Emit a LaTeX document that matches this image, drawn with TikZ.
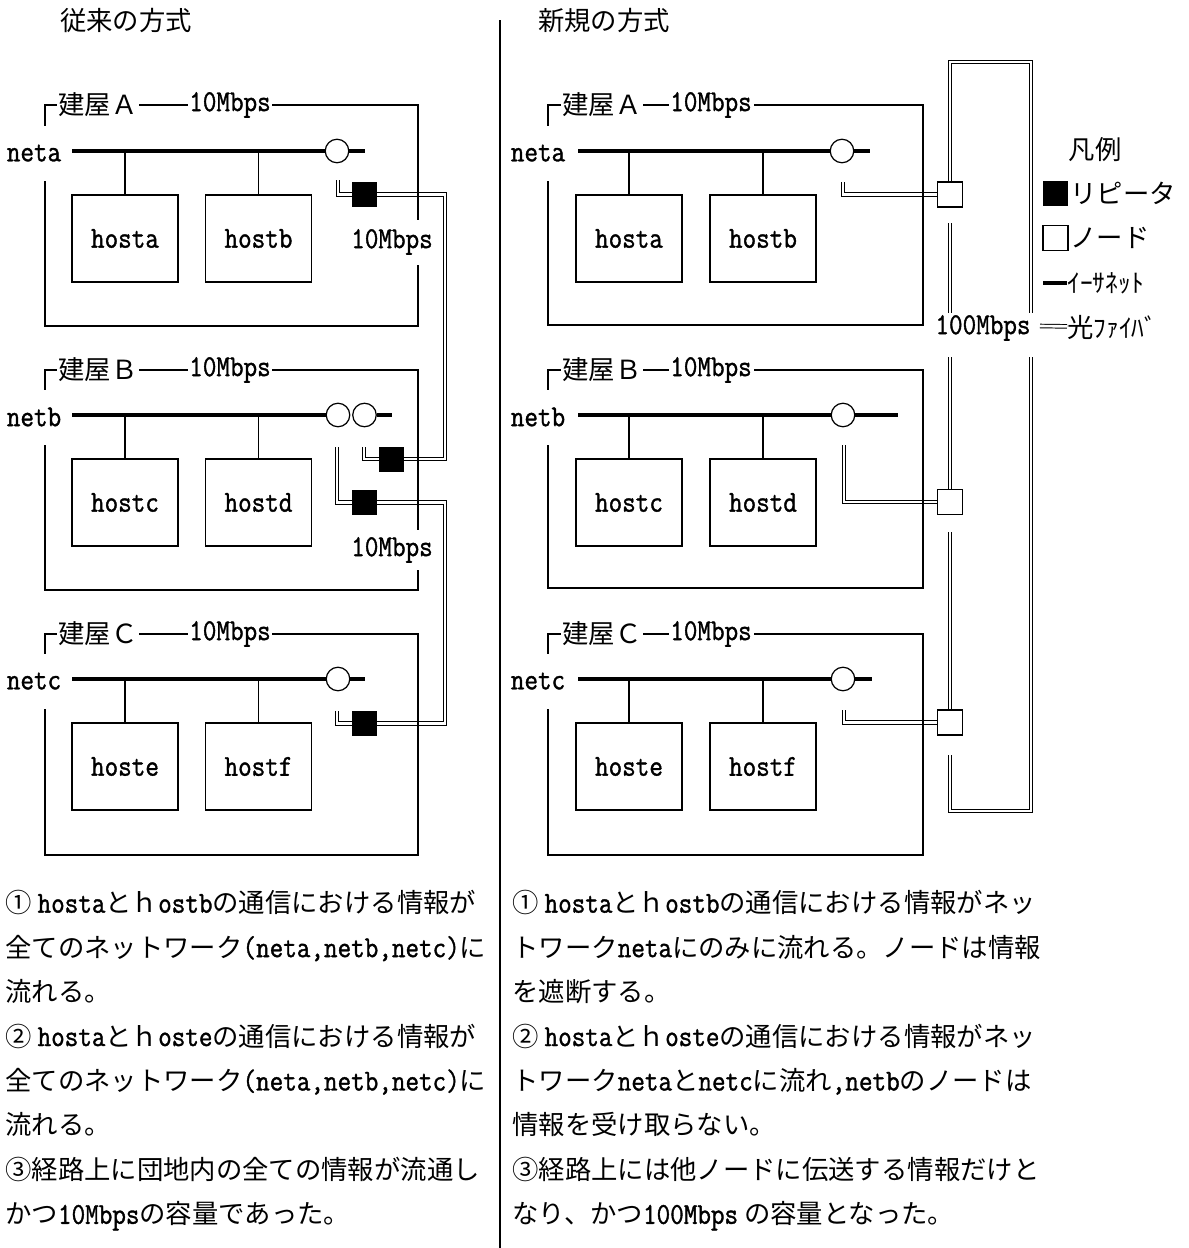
\documentclass[tikz,border=0pt]{standalone}
\usepackage{fontspec}
\setmainfont{Noto Sans CJK JP}
\newfontfamily\lat[FakeBold=1.2,Scale=1.15,FakeStretch=0.87]{Latin Modern Mono}
\newcommand{\en}[1]{{\lat #1}}

\begin{document}
\begin{tikzpicture}[x=0.02cm,y=-0.02cm,
  font=\fontsize{15pt}{18pt}\selectfont,
  frame/.style={draw,line width=0.8pt,inner sep=0pt},
  host/.style={draw,line width=0.8pt,minimum width=2.12cm,minimum height=1.74cm,inner sep=0pt},
  hub/.style={draw,circle,line width=0.7pt,minimum size=0.47cm,inner sep=0pt},
  repeater/.style={fill=black,minimum size=0.5cm,inner sep=0pt},
  nodebox/.style={draw,fill=white,line width=0.7pt,minimum size=0.5cm,inner sep=0pt},
  tag/.style={fill=white,inner xsep=1pt,inner ysep=0pt},
  netname/.style={fill=white,inner xsep=1pt,minimum height=1.1cm},
  bus/.style={line width=2.3pt},
  drop/.style={line width=0.8pt},
  fiber/.style={double,line width=0.55pt,double distance=1.5pt}]

\useasboundingbox (0,0) rectangle (1188,1248);

%Titles
\node (t1) at (126,20) {従来の方式};
\node (t2) at (604,20) {新規の方式};
\coordinate (d1) at (500,20);
\coordinate (d2) at (500,1248);
\draw[line width=0.8pt] (d1) -- (d2);

%Repeaters (old)
\node (ra)  at (364.5,194.5) [repeater] {};
\node (rb)  at (391.5,459.0) [repeater] {};
\node (rbb) at (364.5,502.5) [repeater] {};
\node (rc)  at (364.5,723.5) [repeater] {};

\coordinate (ga)  at (338,180);
\coordinate (gb)  at (364,447);
\coordinate (gbb) at (337,447);
\coordinate (gc)  at (337,711);
\coordinate (xab) at (445,194.5);
\coordinate (xbc) at (445,502.5);

\draw[fiber] (ga) |- (ra);
\draw[fiber] (gb) |- (rb);
\draw[fiber] (gbb) |- (rbb);
\draw[fiber] (gc) |- (rc);
\draw[fiber] (ra) -- (xab) |- (rb);
\draw[fiber] (rbb) -- (xbc) |- (rc);

%Nodes (new)
\node (nda) at (950,194.5) [nodebox] {};
\node (ndb) at (950,502.0) [nodebox] {};
\node (ndc) at (950,722.5) [nodebox] {};

\coordinate (ka) at (843,182);
\coordinate (kb) at (844,445);
\coordinate (kc) at (844,710);

\draw[fiber] (ka) |- (nda);
\draw[fiber] (kb) |- (ndb);
\draw[fiber] (kc) |- (ndc);

%100Mbps loop
\coordinate (p1) at (1031,62);
\coordinate (p2) at (1031,313);
\coordinate (p3) at (1031,357);
\coordinate (p4) at (1031,811);
\coordinate (p5) at (950,755);
\coordinate (p6) at (950,223);
\coordinate (p7) at (950,313);
\coordinate (p8) at (950,357);
\coordinate (p9) at (950,532);

\draw[fiber] (nda) |- (p1) -- (p2);
\draw[fiber] (p3) -- (p4) -| (p5);
\draw[fiber] (p6) -- (p7);
\draw[fiber] (p8) -- (ndb);
\draw[fiber] (p9) -- (ndc);

%Buildings (old)
\node (fa1) at (231.5,215.5) [frame,minimum width=7.46cm,minimum height=4.42cm] {};
\node (fb1) at (231.5,480.0) [frame,minimum width=7.46cm,minimum height=4.40cm] {};
\node (fc1) at (231.5,744.5) [frame,minimum width=7.46cm,minimum height=4.42cm] {};

\node (bla1) at (98,105) [tag] {建屋Ａ};
\node (blb1) at (98,370) [tag] {建屋Ｂ};
\node (blc1) at (98,634) [tag] {建屋Ｃ};
\node (spa1) at (230,105) [tag] {\en{10Mbps}};
\node (spb1) at (230,370) [tag] {\en{10Mbps}};
\node (spc1) at (230,634) [tag] {\en{10Mbps}};
\node (sra1) at (392,242) [tag,minimum height=0.9cm] {\en{10Mbps}};
\node (srb1) at (392,550) [tag,minimum height=0.8cm] {\en{10Mbps}};
\node (nta1) at (34,153) [netname] {\en{neta}};
\node (ntb1) at (34,417) [netname] {\en{netb}};
\node (ntc1) at (34,681) [netname] {\en{netc}};

\coordinate (ua1) at (72,151);
\coordinate (ub1) at (72,415);
\coordinate (uc1) at (72,679);
\node (ca1)  at (337,151) [hub] {};
\node (cb1)  at (338,415) [hub] {};
\node (cbb1) at (364.5,415) [hub] {};
\node (cc1)  at (338,679) [hub] {};
\coordinate (va1) at (365,151);
\coordinate (vb1) at (392,415);
\coordinate (vc1) at (365,679);

\draw[bus] (ua1) -- (ca1);
\draw[bus] (ca1) -- (va1);
\draw[bus] (ub1) -- (cb1);
\draw[bus] (cbb1) -- (vb1);
\draw[bus] (uc1) -- (cc1);
\draw[bus] (cc1) -- (vc1);

\node (ha1) at (125,238.5)   [host] {\en{hosta}};
\node (hb1) at (258.5,238.5) [host] {\en{hostb}};
\node (hc1) at (125,502.5)   [host] {\en{hostc}};
\node (hd1) at (258.5,502.5) [host] {\en{hostd}};
\node (he1) at (125,766.5)   [host] {\en{hoste}};
\node (hf1) at (258.5,766.5) [host] {\en{hostf}};

\draw[drop] (ha1) -- (ha1 |- ua1);
\draw[drop] (hb1) -- (hb1 |- ua1);
\draw[drop] (hc1) -- (hc1 |- ub1);
\draw[drop] (hd1) -- (hd1 |- ub1);
\draw[drop] (he1) -- (he1 |- uc1);
\draw[drop] (hf1) -- (hf1 |- uc1);

%Buildings (new)
\node (fa2) at (735.5,215.0) [frame,minimum width=7.5cm,minimum height=4.40cm] {};
\node (fb2) at (735.5,479.0) [frame,minimum width=7.5cm,minimum height=4.36cm] {};
\node (fc2) at (735.5,744.5) [frame,minimum width=7.5cm,minimum height=4.42cm] {};

\node (bla2) at (602,105) [tag] {建屋Ａ};
\node (blb2) at (602,370) [tag] {建屋Ｂ};
\node (blc2) at (602,634) [tag] {建屋Ｃ};
\node (spa2) at (711,105) [tag] {\en{10Mbps}};
\node (spb2) at (711,370) [tag] {\en{10Mbps}};
\node (spc2) at (711,634) [tag] {\en{10Mbps}};
\node (nta2) at (538,153) [netname] {\en{neta}};
\node (ntb2) at (538,417) [netname] {\en{netb}};
\node (ntc2) at (538,681) [netname] {\en{netc}};

\coordinate (ua2) at (578,151);
\coordinate (ub2) at (578,415);
\coordinate (uc2) at (578,679);
\node (ca2) at (842,151) [hub] {};
\node (cb2) at (843,415) [hub] {};
\node (cc2) at (843,679) [hub] {};
\coordinate (va2) at (870,151);
\coordinate (vb2) at (898,415);
\coordinate (vc2) at (872,679);

\draw[bus] (ua2) -- (ca2);
\draw[bus] (ca2) -- (va2);
\draw[bus] (ub2) -- (cb2);
\draw[bus] (cb2) -- (vb2);
\draw[bus] (uc2) -- (cc2);
\draw[bus] (cc2) -- (vc2);

\node (ha2) at (629,238.5) [host] {\en{hosta}};
\node (hb2) at (763,238.5) [host] {\en{hostb}};
\node (hc2) at (629,502.5) [host] {\en{hostc}};
\node (hd2) at (763,502.5) [host] {\en{hostd}};
\node (he2) at (629,766.5) [host] {\en{hoste}};
\node (hf2) at (763,766.5) [host] {\en{hostf}};

\draw[drop] (ha2) -- (ha2 |- ua2);
\draw[drop] (hb2) -- (hb2 |- ua2);
\draw[drop] (hc2) -- (hc2 |- ub2);
\draw[drop] (hd2) -- (hd2 |- ub2);
\draw[drop] (he2) -- (he2 |- uc2);
\draw[drop] (hf2) -- (hf2 |- uc2);

\node (s100) at (983,328) {\en{100Mbps}};

%Legend
\node (lg)   at (1095,150) {凡例};
\node (lgr)  at (1055.5,193.5) [repeater] {};
\node (lgrt) at (1070,193.5) [anchor=west,inner sep=0pt] {リピータ};
\node (lgn)  at (1055.5,238) [nodebox] {};
\node (lgnt) at (1070,238) [anchor=west,inner sep=0pt] {ノード};
\node (lget) at (1067,283) [anchor=west,inner sep=0pt,font=\fontsize{14.5pt}{16pt}\selectfont] {ｲｰｻﾈｯﾄ};
\coordinate (lge) at (1043,283);
\draw[bus] (lge) -- (lget);
\node (lgft) at (1067,327) [anchor=west,inner sep=0pt] {光{\fontsize{14.5pt}{16pt}\selectfont ﾌｧｲﾊﾞ}};
\coordinate (lgf) at (1040,326);
\draw[fiber] (lgf) -- (lgft);

%Notes
\node (txt1) at (5,890) [anchor=north west,inner sep=0pt,align=left,font=\fontsize{15pt}{25.3pt}\selectfont]
{① \en{hosta}とｈ\en{ostb}の通信における情報が\\
全てのネットワーク\en{(neta,netb,netc)}に\\
流れる。\\
② \en{hosta}とｈ\en{oste}の通信における情報が\\
全てのネットワーク\en{(neta,netb,netc)}に\\
流れる。\\
③経路上に団地内の全ての情報が流通し\\
かつ\en{10Mbps}の容量であった。};
\node (txt2) at (512,890) [anchor=north west,inner sep=0pt,align=left,font=\fontsize{15pt}{25.3pt}\selectfont]
{① \en{hosta}とｈ\en{ostb}の通信における情報がネッ\\
トワーク\en{neta}にのみに流れる。ノードは情報\\
を遮断する。\\
② \en{hosta}とｈ\en{oste}の通信における情報がネッ\\
トワーク\en{neta}と\en{netc}に流れ\en{,netb}のノードは\\
情報を受け取らない。\\
③経路上には他ノードに伝送する情報だけと\\
なり、かつ\en{100Mbps} の容量となった。};

\end{tikzpicture}
\end{document}
